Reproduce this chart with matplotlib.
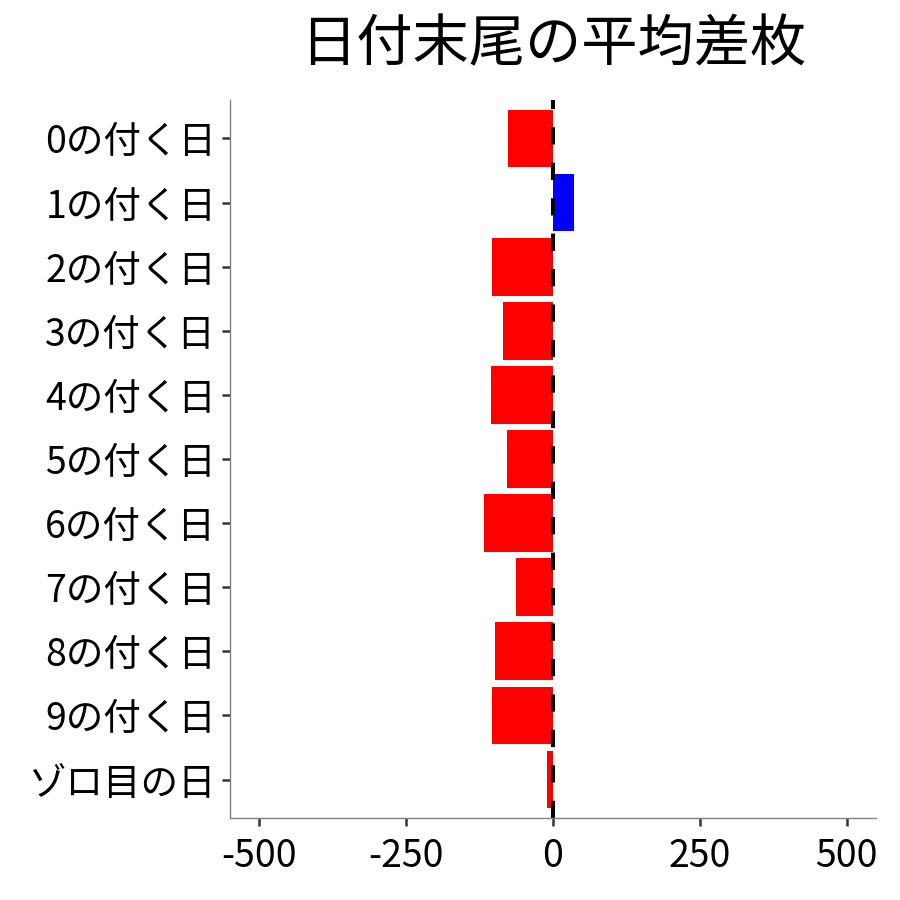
import matplotlib
matplotlib.use('Agg')
import matplotlib.pyplot as plt

plt.rcParams['font.family'] = ['Noto Sans CJK JP', 'DejaVu Sans']

labels = ['0の付く日', '1の付く日', '2の付く日', '3の付く日', '4の付く日',
          '5の付く日', '6の付く日', '7の付く日', '8の付く日', '9の付く日', 'ゾロ目の日']
values = [-77, 35, -104, -86, -106, -79, -118, -63, -99, -104, -10]
colors = ['blue' if v > 0 else 'red' for v in values]

fig = plt.figure(figsize=(9, 9), dpi=100)
ax = fig.add_axes([0.2556, 0.0911, 0.7177, 0.7978])

pos = list(range(len(labels)))
ax.barh(pos, values, height=0.9, color=colors)
ax.axvline(0, color='black', lw=2.9, dashes=(4.3, 4.5))

ax.set_yticks(pos)
ax.set_yticklabels(labels)
ax.set_ylim(len(labels) - 0.4, -0.6)
ax.set_xlim(-550, 550)
ax.set_xticks([-500, -250, 0, 250, 500])
ax.set_xticklabels(['-500', '-250', '0', '250', '500'])

for s in ['top', 'right']:
    ax.spines[s].set_visible(False)
for s in ['left', 'bottom']:
    ax.spines[s].set_color('#808080')
    ax.spines[s].set_linewidth(1.0)
ax.tick_params(axis='both', length=6, width=1.8, color='#333333',
               labelsize=27, labelcolor='black', pad=4)
ax.tick_params(axis='x', pad=8)

fig.text(0.6144, 0.95, '日付末尾の平均差枚', ha='center', va='center', fontsize=40.5)

fig.savefig('out.png', dpi=100)
